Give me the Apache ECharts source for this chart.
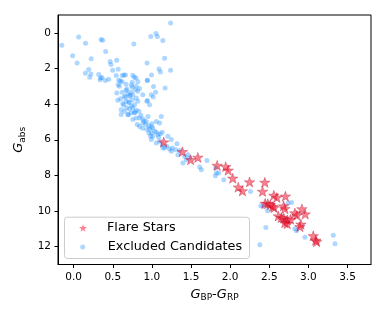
<!DOCTYPE html>
<html><head><meta charset="utf-8">
<script src="https://cdn.jsdelivr.net/npm/echarts@6/dist/echarts.min.js"></script>
<style>html,body{margin:0;padding:0;background:#fff}#c{width:390px;height:312px}</style>
</head><body><div id="c"></div>
<script>
var xTicks = [0, 0.5, 1, 1.5, 2, 2.5, 3, 3.5];
var yTicks = [0, 2, 4, 6, 8, 10, 12];
var seriesNames = ['Flare Stars', 'Excluded Candidates'];

var flareColor = [1.151,1.390,1.495,1.587,1.834,1.943,1.975,2.033,2.248,2.104,2.157,2.443,2.414,2.558,2.597,2.706,2.447,2.481,2.513,2.546,2.562,2.683,2.699,2.917,2.959,2.827,2.853,2.616,2.652,2.686,2.729,2.772,2.699,2.729,2.904,2.891,3.062,3.094,3.105];
var flareMag = [6.13,6.67,7.12,6.99,7.44,7.51,7.71,8.16,8.37,8.66,8.87,8.39,8.90,9.12,9.24,9.17,9.57,9.59,9.65,9.74,9.81,9.72,9.87,9.88,10.17,10.11,10.24,10.28,10.37,10.40,10.49,10.46,10.66,10.71,10.74,10.88,11.39,11.64,11.72];

var exclColor = [1.239,-0.151,0.064,0.152,0.35,0.37,0.769,0.986,1.053,1.070,1.140,-0.013,0.224,0.044,0.409,0.466,0.550,0.477,0.938,1.162,1.091,1.108,1.239,0.192,0.150,0.220,0.205,0.320,0.346,0.338,0.361,0.448,0.498,0.569,0.544,0.620,0.643,0.662,0.576,0.598,0.620,0.569,0.671,0.739,0.756,0.774,0.797,0.842,0.995,0.940,1.021,1.168,0.748,0.799,
0.406,0.585,0.820,0.944,0.551,0.620,0.650,0.671,0.692,0.714,0.735,0.756,0.790,0.884,0.992,1.047,0.564,0.628,0.671,0.714,0.748,0.778,0.820,0.935,0.970,0.607,0.650,0.679,0.714,0.756,0.799,0.833,0.607,0.692,0.735,0.778,0.756,0.799,0.842,0.884,0.928,1.120,1.056,1.098,0.812,0.842,0.884,0.919,0.961,0.992,0.935,0.970,1.012,0.992,0.961,0.983,1.056,1.076,1.012,0.992,1.085,1.107,1.056,1.098,1.132,1.162,1.191,1.226,1.261,1.248,1.320,1.303,1.354,1.332,1.460,1.482,
1.034,1.132,1.204,1.248,1.140,1.418,1.440,1.396,1.704,1.610,1.632,1.824,1.811,1.918,2.260,1.854,1.815,1.017,0.944,
2.392,2.421,2.478,2.741,2.785,2.456,2.379,2.827,2.849,2.955,3.318,3.340,
0.60,0.66,0.70,0.74,0.78,0.70,0.64,0.72,0.80,0.86,0.90,0.95,1.00,0.88,0.68,0.75,0.82];
var exclMag = [-0.55,0.70,0.24,0.58,0.38,0.41,0.63,0.20,0.04,0.20,0.43,1.29,1.46,1.70,1.05,1.61,1.54,1.78,1.70,1.42,2.03,2.20,2.10,2.06,2.27,2.31,2.49,2.34,2.53,2.64,2.51,2.60,2.10,2.05,2.39,2.40,2.37,2.36,2.66,2.71,2.74,2.92,2.88,2.94,2.38,2.49,2.54,3.13,2.36,2.66,3.01,3.10,2.78,3.00,
2.68,3.00,2.74,2.68,3.37,3.34,3.56,3.22,3.41,3.56,3.34,3.48,3.19,3.47,3.47,3.34,3.79,3.97,3.84,3.93,3.75,4.03,3.84,3.84,4.03,4.31,4.40,4.21,4.27,4.21,4.35,4.40,4.59,4.59,4.49,4.49,4.87,4.78,4.78,4.83,4.97,4.69,4.97,5.06,5.15,5.25,5.06,5.15,5.21,5.28,5.43,5.39,5.34,5.62,5.62,5.81,5.58,5.71,5.81,5.99,5.84,5.66,6.18,6.09,6.28,6.46,6.37,6.52,6.46,6.65,6.22,6.56,6.61,6.84,6.84,7.02,
5.53,5.58,5.81,5.99,6.46,6.93,7.12,7.30,7.16,7.53,7.68,7.87,8.02,8.24,8.90,7.87,7.58,3.60,3.80,
9.70,9.74,9.98,9.55,9.52,10.92,11.89,10.99,11.11,11.47,11.36,11.84,
3.70,3.62,3.88,4.10,4.45,4.60,4.05,3.50,3.66,4.62,4.95,4.70,5.10,5.35,3.15,3.05,3.28];

function pairs(a, b) { return a.map(function (v, i) { return [v, b[i]]; }); }

var starPath = 'path://M0,-10L2.35,-3.24L9.51,-3.09L3.8,1.24L5.88,8.09L0,4L-5.88,8.09L-3.8,1.24L-9.51,-3.09L-2.35,-3.24Z';
var font = 'DejaVu Sans';

var chart = echarts.init(document.getElementById('c'), null, {renderer: 'canvas'});
chart.setOption({
  animation: false,
  backgroundColor: '#fff',
  grid: {left: 58, right: 19, top: 15, bottom: 47.5, show: true, borderColor: '#000', borderWidth: 1, backgroundColor: 'transparent'},
  xAxis: {
    type: 'value', min: -0.2, max: 3.8,
    name: '{i|G}{s|BP}{n|-}{i|G}{s|RP}', nameLocation: 'middle', nameGap: 22,
    nameTextStyle: {color: '#000', fontFamily: font, rich: {
      i: {fontStyle: 'italic', fontSize: 13, fontFamily: font, color: '#000'},
      n: {fontSize: 13, fontFamily: font, color: '#000'},
      s: {fontSize: 9, fontFamily: font, color: '#000', padding: [7, 0, 0, 0]}
    }},
    axisLine: {show: true, onZero: false, lineStyle: {color: '#000', width: 1}},
    axisTick: {show: true, customValues: xTicks, length: 3.5, lineStyle: {color: '#000'}},
    axisLabel: {customValues: xTicks, color: '#000', fontSize: 10.5, fontFamily: font, margin: 7,
      formatter: function (v) { return v.toFixed(1); }},
    splitLine: {show: false}
  },
  yAxis: {
    type: 'value', min: -1, max: 13, inverse: true,
    name: '{i|G}{s|abs}', nameLocation: 'middle', nameGap: 18, nameRotate: 90,
    nameTextStyle: {color: '#000', fontFamily: font, rich: {
      i: {fontStyle: 'italic', fontSize: 13, fontFamily: font, color: '#000'},
      s: {fontSize: 9, fontFamily: font, color: '#000', padding: [7, 0, 0, 0]}
    }},
    axisLine: {show: true, onZero: false, lineStyle: {color: '#000', width: 1}},
    axisTick: {show: true, customValues: yTicks, length: 3.5, lineStyle: {color: '#000'}},
    axisLabel: {customValues: yTicks, color: '#000', fontSize: 10.5, fontFamily: font, margin: 7},
    splitLine: {show: false}
  },
  legend: [
    {data: [seriesNames[0]], orient: 'vertical', left: 79, top: 221.5, padding: 0,
     itemWidth: 8, itemHeight: 8, icon: starPath, itemStyle: {borderWidth: 0},
     textStyle: {fontSize: 12.8, fontFamily: font, color: '#000', padding: [0, 0, 0, 15]}},
    {data: [seriesNames[1]], orient: 'vertical', left: 80.2, top: 240.5, padding: 0,
     itemWidth: 5, itemHeight: 5, icon: 'circle',
     textStyle: {fontSize: 12.8, fontFamily: font, color: '#000', padding: [0, 0, 0, 17.5]}}
  ],
  graphic: [{type: 'rect', left: 64, top: 216.7, z: 3,
    shape: {width: 185, height: 41.3, r: 3},
    style: {fill: 'rgba(255,255,255,0.8)', stroke: '#cccccc', lineWidth: 1}}],
  series: [
    {name: seriesNames[1], type: 'scatter', symbol: 'circle', symbolSize: 5, z: 2,
     itemStyle: {color: 'rgba(30,144,255,0.45)'}, data: pairs(exclColor, exclMag)},
    {name: seriesNames[0], type: 'scatter', symbol: starPath, symbolSize: [10.5, 10], z: 2,
     itemStyle: {color: 'rgba(245,0,25,0.62)', borderColor: 'rgba(170,0,40,0.55)', borderWidth: 0.7},
     data: pairs(flareColor, flareMag)}
  ]
});
</script></body></html>
